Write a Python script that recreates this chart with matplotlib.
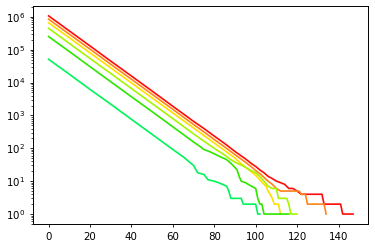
import matplotlib
matplotlib.use('Agg')
import matplotlib.pyplot as plt
from matplotlib.ticker import NullFormatter

# counts per step (log scale)
red_x = [0, 10, 20, 30, 40, 50, 60, 65, 70, 75, 80, 85, 90, 95, 98, 100, 102, 104, 106, 108,
         110, 112, 114, 116, 118, 120, 122, 132, 133, 141, 142, 147]
red_y = [1070000, 373000, 130000, 45000, 15800, 5500, 1900, 1120, 660, 400, 235, 140, 80, 48, 34, 28,
         22, 18, 14, 12, 10, 9, 8, 6, 6, 5, 4, 4, 2, 2, 1, 1]

orange_x = [0, 10, 20, 30, 40, 50, 60, 65, 70, 75, 80, 85, 90, 95, 98, 100, 102, 104, 106, 108,
            110, 112, 121, 122, 124, 125, 133, 134]
orange_y = [851000, 297000, 104000, 36000, 12600, 4400, 1530, 900, 530, 315, 185, 110, 64, 38, 27, 21,
            17, 13, 10, 8, 6, 5, 5, 4, 4, 2, 2, 1]

yellow_x = [0, 10, 20, 30, 40, 50, 60, 65, 70, 75, 80, 85, 90, 93, 96, 98, 100, 102, 104, 105,
            106, 107, 108, 109, 111, 112]
yellow_y = [661000, 231000, 80000, 28000, 9800, 3400, 1190, 700, 415, 245, 145, 86, 50, 34, 24, 19,
            15, 11, 8, 7, 5, 4, 3, 2, 2, 1]

lime_x = [0, 10, 20, 30, 40, 50, 60, 65, 70, 75, 80, 85, 88, 91, 94, 97, 100, 102, 104, 106,
          108, 110, 111, 115, 116, 117, 120]
lime_y = [447000, 156000, 54000, 19000, 6600, 2300, 800, 470, 275, 165, 100, 62, 45, 35, 29, 22, 18,
          14, 10, 7, 6, 6, 3, 3, 2, 1, 1]

green_x = [0, 10, 20, 30, 40, 50, 60, 65, 70, 73, 75, 78, 80, 83, 86, 88, 90, 91, 92, 93, 95,
           98, 100, 101, 102, 103, 104, 116]
green_y = [251000, 88000, 30500, 10600, 3700, 1300, 450, 265, 155, 115, 92, 78, 68, 55, 45, 35, 26,
           22, 14, 10, 9, 7, 6, 3, 2, 2, 1, 1]

spring_x = [0, 10, 20, 30, 40, 50, 60, 65, 70, 72, 75, 77, 80, 82, 84, 86, 87, 88, 93, 94, 100,
            101, 102]
spring_y = [51000, 18000, 6200, 2200, 760, 265, 92, 55, 30, 18, 16, 11, 10, 9, 8, 7, 5, 3, 3, 2, 2,
            1, 1]

series = [
    (red_x, red_y, '#ff0a0a'),
    (orange_x, orange_y, '#ff8419'),
    (yellow_x, yellow_y, '#ffdf00'),
    (lime_x, lime_y, '#a6f500'),
    (green_x, green_y, '#2ee600'),
    (spring_x, spring_y, '#00f55a'),
]

fig, ax = plt.subplots(figsize=(3.75, 2.48), dpi=100)
fig.subplots_adjust(left=0.089, right=0.982, bottom=0.097, top=0.976)

for xs, ys, c in series:
    ax.plot(xs, ys, color=c, linewidth=1.2)

ax.set_yscale('log')
ax.yaxis.set_minor_formatter(NullFormatter())
ax.set_xticks([0, 20, 40, 60, 80, 100, 120, 140])
ax.tick_params(labelsize=7.4, length=2.5, width=0.6)
ax.tick_params(which='minor', length=1.5, width=0.5)
for s in ax.spines.values():
    s.set_linewidth(0.7)

fig.savefig('out.png', dpi=100)
